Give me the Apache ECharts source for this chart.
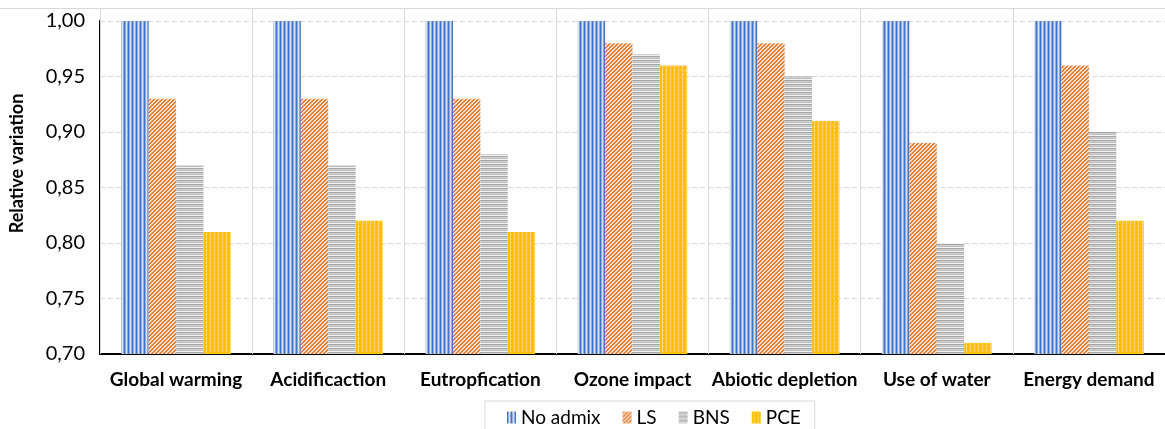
<!DOCTYPE html>
<html><head><meta charset="utf-8">
<script src="https://cdn.jsdelivr.net/npm/echarts@6/dist/echarts.min.js"></script>
<style>html,body{margin:0;padding:0;background:#fff}#c{width:1165px;height:429px}</style>
</head><body><div id="c"></div>
<script>
const categories = ['Global warming','Acidificaction','Eutropfication','Ozone impact','Abiotic depletion','Use of water','Energy demand'];
const seriesNames = ['No admix','LS','BNS','PCE'];
const noAdmix = [1.00,1.00,1.00,1.00,1.00,1.00,1.00];
const ls      = [0.93,0.93,0.93,0.98,0.98,0.89,0.96];
const bns     = [0.87,0.87,0.88,0.97,0.95,0.80,0.90];
const pce     = [0.81,0.82,0.81,0.96,0.91,0.71,0.82];
const yTicks  = ['0,70','0,75','0,80','0,85','0,90','0,95','1,00'];

function makePattern(w,h,fn){
  const c=document.createElement('canvas');c.width=w;c.height=h;
  const ctx=c.getContext('2d');
  for(let x=0;x<w;x++)for(let y=0;y<h;y++){ctx.fillStyle=fn(x,y);ctx.fillRect(x,y,1,1);}
  return {image:c,repeat:'repeat'};
}
const pBlue = makePattern(4,4,(x,y)=>['#4472c4','#8faadc','#dae3f3','#8faadc'][x]);
const pOrange = makePattern(4,4,(x,y)=>((x+y)%4<2)?'#ed7d31':'#fbe0cf');
const pGray = makePattern(4,4,(x,y)=>['#a5a5a5','#d0d0d0','#bdbdbd','#f2f2f2'][y]);
const pYellow = makePattern(4,4,(x,y)=>(x%4===2&&y%4!==0)?'#ffe38a':'#ffc000');
const patterns=[pBlue,pOrange,pGray,pYellow];
const dataSets=[noAdmix,ls,bns,pce];

const chart=echarts.init(document.getElementById('c'),null,{renderer:'canvas'});
chart.setOption({
  animation:false,
  textStyle:{fontFamily:'Lato'},
  graphic:[{type:'line',shape:{x1:0,y1:8.5,x2:1165,y2:8.5},style:{stroke:'#d9d9d9',lineWidth:1},silent:true}],
  legend:{
    data:seriesNames, left:485, top:401, padding:[7,14,10,22],
    borderColor:'#d9d9d9', borderWidth:1, itemWidth:9, itemHeight:12, itemGap:22,
    icon:'rect',
    textStyle:{fontFamily:'Lato',fontSize:19,color:'#000'}
  },
  grid:{left:99,right:0,top:21,bottom:75,containLabel:false},
  xAxis:{
    type:'category', data:categories,
    axisLine:{lineStyle:{color:'#000',width:2}},
    axisTick:{show:true,interval:0,inside:true,length:346,lineStyle:{color:'#d9d9d9',width:1}},
    axisLabel:{interval:0,fontFamily:'Lato',fontWeight:'bold',fontSize:19,color:'#000',margin:16}
  },
  yAxis:{
    type:'value', min:0.7, max:1.0, interval:0.05,
    name:'Relative variation', nameLocation:'middle', nameGap:74,
    nameTextStyle:{fontFamily:'Lato',fontWeight:'bold',fontSize:18,color:'#000',padding:[0,0,0,48]},
    axisLine:{show:true,lineStyle:{color:'#000',width:2}},
    axisTick:{show:false},
    axisLabel:{fontFamily:'Lato',fontSize:20,color:'#000',margin:15,
      formatter:(v)=>{const i=Math.round((v-0.7)/0.05);return yTicks[i]||'';}},
    splitLine:{lineStyle:{color:'#d9d9d9',type:[5,3]}}
  },
  series:seriesNames.map((n,i)=>({
    name:n,type:'bar',data:dataSets[i],barGap:'0%',barCategoryGap:'28%',
    itemStyle:{color:patterns[i]}
  }))
});
</script></body></html>
